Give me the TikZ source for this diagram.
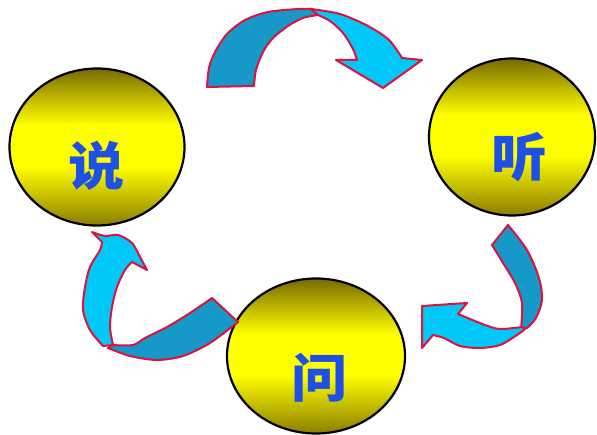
\documentclass[tikz,border=0pt]{standalone}
\usepackage{fontspec}
\newfontfamily\cjk{Noto Sans CJK SC}
\usetikzlibrary{shapes.geometric}
\definecolor{oltop}{RGB}{120,106,0}
\definecolor{olbot}{RGB}{140,126,0}
\definecolor{ballyel}{RGB}{255,255,0}
\definecolor{arrdark}{RGB}{22,152,200}
\definecolor{arrlight}{RGB}{0,200,248}
\definecolor{arredge}{RGB}{222,18,60}
\definecolor{txtblue}{RGB}{30,80,230}
\pgfdeclareverticalshading{ballshade}{100bp}{color(0bp)=(olbot); color(25bp)=(olbot); color(44bp)=(ballyel); color(57bp)=(ballyel); color(75bp)=(oltop); color(100bp)=(oltop)}
\tikzset{
  ball/.style={ellipse, draw=black, line width=2.2pt, shading=ballshade, inner sep=0pt},
  word/.style={font=\cjk\bfseries\fontsize{52}{52}\selectfont, text=txtblue, inner sep=0pt, xscale=1.08},
  darkpart/.style={fill=arrdark, draw=arredge, line width=2pt, line join=round},
  lightpart/.style={fill=arrlight, draw=arredge, line width=2pt, line join=round}
}
\begin{document}
\begin{tikzpicture}[x=1pt,y=-1pt]
\useasboundingbox (0,0) rectangle (597,435);
\fill[white] (0,0) rectangle (597,435);
% circles
\node[ball, minimum width=175pt, minimum height=157pt] (shuoball) at (97,147) {};
\node[ball, minimum width=166pt, minimum height=157pt] (tingball) at (512,137) {};
\node[ball, minimum width=178pt, minimum height=155pt] (wenball) at (316,356) {};
\node[word] (shuo) at (97,166) {说};
\node[word] (ting) at (520,157) {听};
\node[word] (wen) at (320,378) {问};
% top arrow: shuo -> ting
\draw[darkpart] (207,87) -- plot[smooth] coordinates {(207,87) (209,68) (215,52) (227,34) (245,20) (268,12) (298,9) (311,9)}
  -- (318,15) -- plot[smooth] coordinates {(318,15) (303,18) (288,26) (273,38) (263,52) (256,70) (254,86)} -- cycle;
\draw[lightpart] (311,9) -- plot[smooth] coordinates {(311,9) (340,14) (368,26) (389,40) (402,58)}
  -- (422,60) -- (383,88) -- (336,60) -- (357,60)
  -- plot[smooth] coordinates {(357,60) (353,49) (343,33) (330,21) (318,15)} -- cycle;
% right arrow: ting -> wen
\draw[darkpart] (492,245) -- (508,225) -- plot[smooth] coordinates {(508,225) (527,250) (539,278) (542,300) (536,318) (527,328)}
  -- (521,329) -- plot[smooth] coordinates {(521,329) (522,303) (515,283) (503,263) (492,245)} -- cycle;
\draw[lightpart] (522,327) -- plot[smooth] coordinates {(522,327) (500,329) (485,325) (470,319) (458,314)}
  -- (467,303) -- (422,306) -- (422,348) -- (433,335)
  -- plot[smooth] coordinates {(433,335) (444,338) (460,346) (480,348) (500,345) (517,335) (525,329)} -- cycle;
% left arrow: wen -> shuo
\draw[darkpart] (212,298) -- (238,322) -- plot[smooth] coordinates {(238,322) (210,343) (183,356) (157,360) (130,356) (108,348)}
  -- (112,345) -- plot[smooth] coordinates {(112,345) (133,345) (145,338) (167,327) (190,313) (212,298)} -- cycle;
\draw[lightpart] (103,346) -- plot[smooth] coordinates {(103,346) (90,330) (83,310) (85,287) (90,267) (100,250) (102,242)}
  -- (92,232) -- plot[smooth] coordinates {(92,232) (105,236) (118,235) (132,243) (140,257)} -- (147,270) -- (132,262)
  -- plot[smooth] coordinates {(132,262) (125,270) (117,287) (112,307) (110,327) (113,345)} -- cycle;
\end{tikzpicture}
\end{document}
